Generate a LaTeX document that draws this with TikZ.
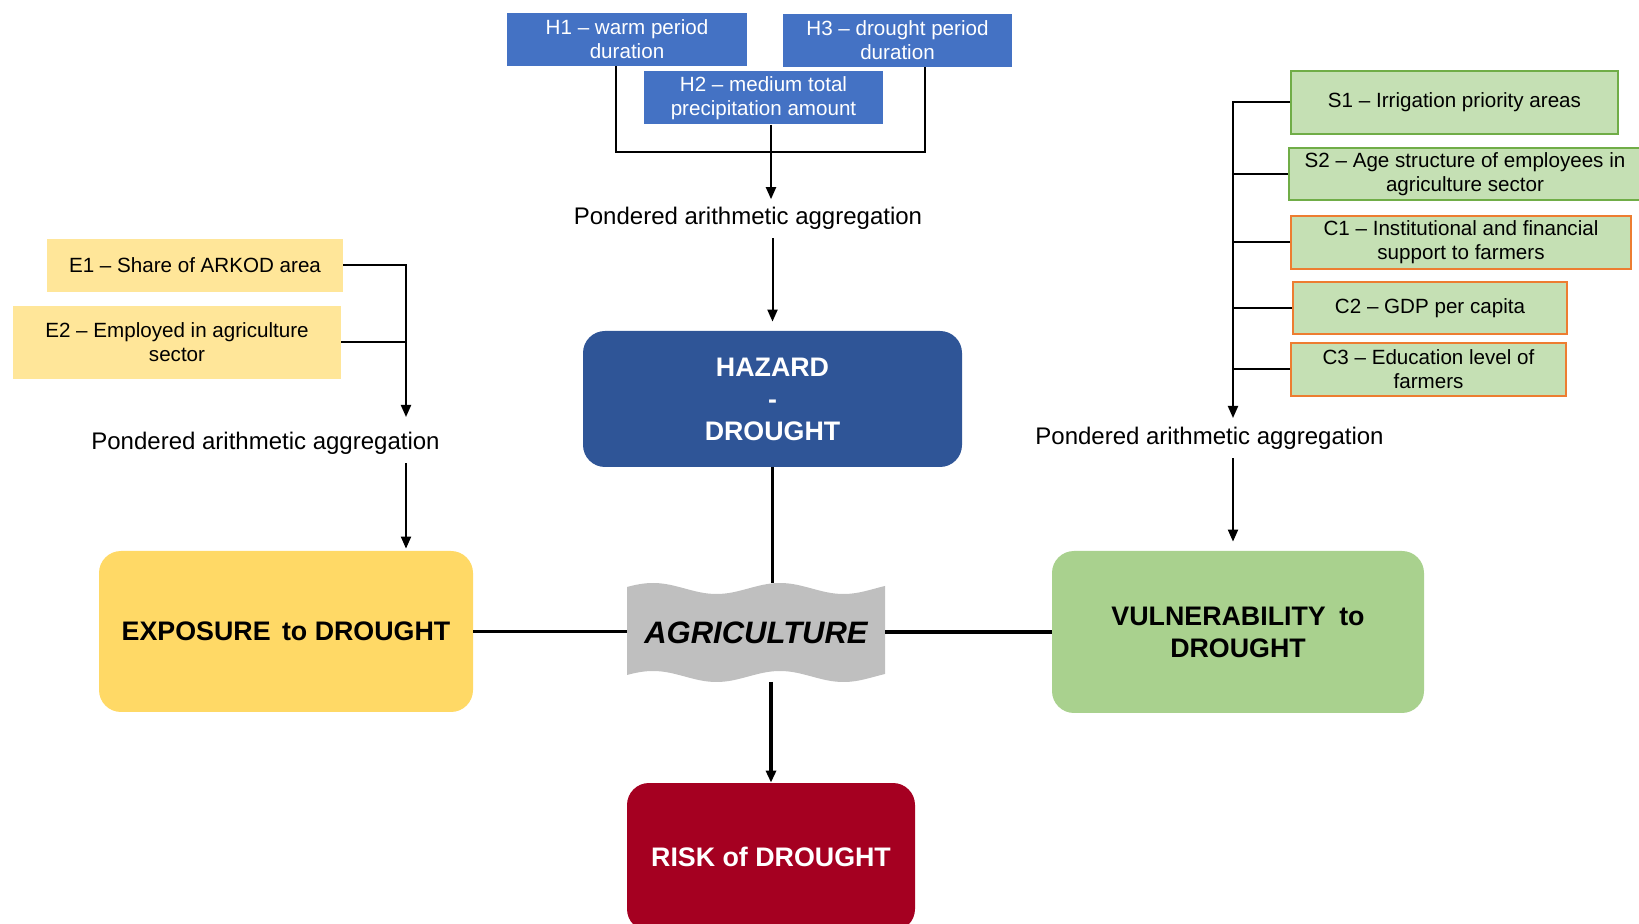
\documentclass[tikz,border=0pt]{standalone}
\usepackage{fontspec}
\setmainfont{Liberation Sans}
\usetikzlibrary{arrows.meta}
\definecolor{hblue}{HTML}{4472C4}
\definecolor{hazblue}{HTML}{2F5597}
\definecolor{eyellow}{HTML}{FFE699}
\definecolor{expyellow}{HTML}{FFD966}
\definecolor{sfill}{HTML}{C5E0B4}
\definecolor{sline}{HTML}{70AD47}
\definecolor{cline}{HTML}{ED7D31}
\definecolor{vgreen}{HTML}{A9D18E}
\definecolor{riskred}{HTML}{A50021}
\definecolor{agrigray}{HTML}{BFBFBF}
\begin{document}
\begin{tikzpicture}[x=0.5pt, y=-0.5pt,
  box/.style={inner sep=0pt, align=center, font=\fontsize{10.3}{12}\selectfont},
  hbox/.style={box, fill=hblue, text=white},
  ebox/.style={box, fill=eyellow},
  sbox/.style={box, fill=sfill, draw=sline, line width=0.8pt},
  cbox/.style={box, fill=sfill, draw=cline, line width=0.8pt},
  bigbox/.style={rounded corners=11pt, inner sep=0pt, align=center, font=\bfseries\fontsize{13.4}{16}\selectfont},
  aggtext/.style={inner sep=4pt, font=\fontsize{12}{14}\selectfont},
  link/.style={line width=1pt},
  mainlink/.style={line width=1.6pt},
  arr/.style={-{Triangle[length=6pt,width=5pt]}}]
\useasboundingbox (0,0) rectangle (1639,924);

\node[hbox, minimum width=120pt, minimum height=26.5pt] (h1) at (627,39.5) {H1 -- warm period\\duration};
\node[hbox, minimum width=114.5pt, minimum height=26.5pt] (h3) at (897.5,40.5) {H3 -- drought period\\duration};
\node[hbox, minimum width=119.5pt, minimum height=26.5pt] (h2) at (763.5,98) {H2 -- medium total\\precipitation amount};
\node[aggtext, anchor=base] (aggh) at (748,225) {Pondered arithmetic aggregation};
\node[bigbox, fill=hazblue, text=white, minimum width=189.5pt, minimum height=68pt] (haz) at (772.5,399) {HAZARD\\-\\DROUGHT};

\node[ebox, minimum width=148pt, minimum height=26.5pt] (e1) at (195,265.5) {E1 -- Share of ARKOD area};
\node[ebox, minimum width=164pt, minimum height=36.5pt] (e2) at (177,342.5) {E2 -- Employed in agriculture\\sector};
\node[aggtext, anchor=base] (agge) at (265.5,450) {Pondered arithmetic aggregation};
\node[bigbox, fill=expyellow, minimum width=187pt, minimum height=80.5pt] (expo) at (286,631.5) {EXPOSURE\hspace{2pt} to DROUGHT};

\node[sbox, minimum width=163.5pt, minimum height=31.5pt] (s1) at (1454.5,102.5) {S1 -- Irrigation priority areas};
\node[sbox, minimum width=176pt, minimum height=26pt] (s2) at (1465,174) {S2 -- Age structure of employees in\\agriculture sector};
\node[cbox, minimum width=170pt, minimum height=26.5pt] (c1) at (1461,242.5) {C1 -- Institutional and financial\\support to farmers};
\node[cbox, minimum width=137pt, minimum height=26pt] (c2) at (1430,308) {C2 -- GDP per capita};
\node[cbox, minimum width=137.5pt, minimum height=26.5pt] (c3) at (1428.5,369.5) {C3 -- Education level of\\farmers};
\node[aggtext, anchor=base] (aggv) at (1209.5,445) {Pondered arithmetic aggregation};
\node[bigbox, fill=vgreen, minimum width=186pt, minimum height=81pt] (vuln) at (1238,632) {VULNERABILITY\hspace{3pt} to\\DROUGHT};

\node[bigbox, fill=riskred, text=white, minimum width=144pt, minimum height=74pt] (risk) at (771,857) {RISK of DROUGHT};

\fill[agrigray] plot[domain=627:885, samples=80] (\x, {588.5-5.5*cos(2.8346*(\x-653))})
  -- plot[domain=885:627, samples=80] (\x, {676.5-5.5*cos(2.8346*(\x-653))}) -- cycle;
\node[inner sep=0pt, minimum width=129pt, minimum height=44pt, font=\bfseries\itshape\fontsize{15.5}{18}\selectfont] (agri) at (756,632.5) {AGRICULTURE};

\coordinate (hjoin) at (771,152);
\draw[link] ([xshift=-5.5pt]h1.south) |- (hjoin) -| ([xshift=13.75pt]h3.south);
\draw[link] ([xshift=3.75pt]h2.south) -- (hjoin);
\draw[link, arr] (hjoin) -- (hjoin |- aggh.north);
\draw[link, arr, shorten >=4.5pt] (aggh.south -| haz.north) -- (haz.north);

\coordinate (ejoin) at (406,417);
\draw[link, arr] (e1.east) -| (ejoin);
\draw[link] (e2.east) -- (e2.east -| ejoin);
\draw[link, arr, shorten >=1pt] (agge.south -| ejoin) -- (expo.north -| ejoin);

\coordinate (vjoin) at (1233,418);
\draw[link, arr] (s1.west) -| (vjoin);
\foreach \n in {s2,c1,c2,c3}
  \draw[link] (\n.west) -- (\n.west -| vjoin);
\draw[link, arr, shorten >=4.5pt] (aggv.south -| vjoin) -- (vuln.north -| vjoin);

\draw[mainlink, shorten >=2.6pt] (haz.south) -- (haz.south |- agri.north);
\draw[mainlink, arr, shorten <=2.5pt] (agri.south -| risk.north) -- (risk.north);
\draw[mainlink] (expo.east) -- (expo.east -| agri.west);
\draw[mainlink] (agri.east |- vuln.west) -- (vuln.west);

\end{tikzpicture}
\end{document}
